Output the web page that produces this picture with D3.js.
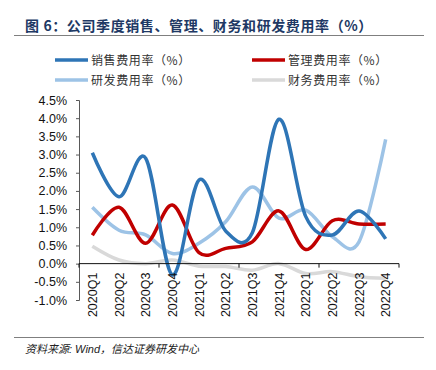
<!DOCTYPE html>
<html>
<head>
<meta charset="utf-8">
<script src="https://cdn.jsdelivr.net/npm/d3@7"></script>
<style>
  body { margin: 0; background: #fff; }
  svg { display: block; font-family: "Liberation Sans", Arial, sans-serif; }
</style>
</head>
<body>
<div id="container"></div>
<script>
const quarters = ['2020Q1', '2020Q2', '2020Q3', '2020Q4', '2021Q1', '2021Q2',
    '2021Q3', '2021Q4', '2022Q1', '2022Q2', '2022Q3', '2022Q4'];

// 销售费用率
const sales = [3.05, 1.84, 2.9, -0.31, 2.3, 0.9, 0.85, 3.97, 1.3, 0.79, 1.45, 0.68];
// 管理费用率
const admin = [0.78, 1.55, 0.56, 1.61, 0.3, 0.42, 0.6, 1.45, 0.39, 1.18, 1.09, 1.09];
// 研发费用率
const rnd = [1.55, 0.92, 0.79, 0.28, 0.56, 1.15, 2.11, 1.25, 1.47, 0.74, 0.6, 3.42];
// 财务费用率
const finance = [0.48, 0.1, 0.0, 0.1, -0.07, -0.08, -0.18, 0.0, -0.27, -0.22, -0.36, -0.4];

const yTicks = [-1.0, -0.5, 0, 0.5, 1.0, 1.5, 2.0, 2.5, 3.0, 3.5, 4.0, 4.5];

const series = [
    { name: '销售费用率（%）', values: sales, color: '#2e75b6' },
    { name: '管理费用率（%）', values: admin, color: '#c00000' },
    { name: '研发费用率（%）', values: rnd, color: '#9dc3e6' },
    { name: '财务费用率（%）', values: finance, color: '#d9d9d9' },
];

const width = 436, height = 370;
const plotLeft = 79, plotRight = 399, plotTop = 100, plotBottom = 300;

const svg = d3.select('#container')
    .append('svg')
        .attr('width', width)
        .attr('height', height);

// title
svg.append('text')
    .attr('x', 25)
    .attr('y', 31)
    .attr('font-size', 14)
    .attr('font-weight', 'bold')
    .attr('letter-spacing', 0.6)
    .attr('fill', '#203864')
    .attr('font-family', '"Noto Sans CJK SC", sans-serif')
    .text('图 6：公司季度销售、管理、财务和研发费用率（%）');

svg.append('line')
    .attr('x1', 14).attr('x2', 424)
    .attr('y1', 35.5).attr('y2', 35.5)
    .attr('stroke', '#7f7f7f')
    .attr('stroke-width', 1);

// legend
const legendPos = [[55, 60], [252, 60], [55, 80], [252, 80]];
const legend = svg.append('g').attr('class', 'legend');
series.forEach((s, i) => {
    const [lx, ly] = legendPos[i];
    legend.append('line')
        .attr('x1', lx).attr('x2', lx + 33)
        .attr('y1', ly).attr('y2', ly)
        .attr('stroke', s.color)
        .attr('stroke-width', 3.5);
    legend.append('text')
        .attr('x', lx + 36)
        .attr('y', ly + 4.5)
        .attr('font-size', 12)
        .attr('letter-spacing', 0.6)
        .attr('fill', '#333')
        .attr('font-family', '"Noto Sans CJK SC", sans-serif')
        .text(s.name);
});

const x = d3.scaleBand()
    .domain(quarters)
    .range([plotLeft, plotRight]);

const y = d3.scaleLinear()
    .domain([-1.0, 4.5])
    .range([plotBottom, plotTop]);

// y axis
const yAxis = d3.axisLeft(y)
    .tickValues(yTicks)
    .tickSize(3)
    .tickFormat(d => d.toFixed(1) + '%');

const yg = svg.append('g')
    .attr('transform', `translate(${plotLeft},0)`)
    .call(yAxis);
yg.select('.domain').attr('stroke', '#595959');
yg.selectAll('.tick line').attr('stroke', '#595959');
yg.selectAll('.tick text')
    .attr('font-size', 12.5)
    .attr('fill', '#111')
    .attr('x', -12);

// lines
const line = d3.line()
    .x((d, i) => x(quarters[i]) + x.bandwidth() / 2)
    .y(d => y(d))
    .curve(d3.curveCatmullRom.alpha(0));

const order = [3, 2, 1, 0];
svg.append('g')
    .attr('class', 'series')
    .selectAll('path')
    .data(order.map(i => series[i]))
    .enter()
    .append('path')
        .attr('d', d => line(d.values))
        .attr('fill', 'none')
        .attr('stroke', d => d.color)
        .attr('stroke-width', 3.5)
        .attr('stroke-linejoin', 'round');

// x axis at zero
const xAxisG = svg.append('g')
    .attr('transform', `translate(0,${y(0)})`);
xAxisG.append('line')
    .attr('x1', plotLeft).attr('x2', plotRight)
    .attr('y1', 0).attr('y2', 0)
    .attr('stroke', '#111')
    .attr('stroke-width', 1);
// a tick every 3 categories
xAxisG.selectAll('line.tk')
    .data(quarters.filter((q, i) => i % 3 === 0).concat(['end']))
    .enter()
    .append('line')
        .attr('class', 'tk')
        .attr('x1', d => d === 'end' ? plotRight : x(d))
        .attr('x2', d => d === 'end' ? plotRight : x(d))
        .attr('y1', 0).attr('y2', 4)
        .attr('stroke', '#111');

svg.append('g')
    .selectAll('text')
    .data(quarters)
    .enter()
    .append('text')
        .attr('transform', d => `translate(${x(d) + x.bandwidth() / 2 + 4.5},${y(0) + 9}) rotate(-90)`)
        .attr('text-anchor', 'end')
        .attr('font-size', 12.5)
        .attr('fill', '#111')
        .text(d => d);

// source
svg.append('line')
    .attr('x1', 14).attr('x2', 424)
    .attr('y1', 337.5).attr('y2', 337.5)
    .attr('stroke', '#7f7f7f')
    .attr('stroke-width', 1);

svg.append('text')
    .attr('x', 25)
    .attr('y', 353)
    .attr('font-size', 11)
    .attr('font-style', 'italic')
    .attr('fill', '#222')
    .attr('font-family', '"Liberation Sans", "Noto Sans CJK SC", sans-serif')
    .text('资料来源: Wind，信达证券研发中心');
</script>
</body>
</html>
